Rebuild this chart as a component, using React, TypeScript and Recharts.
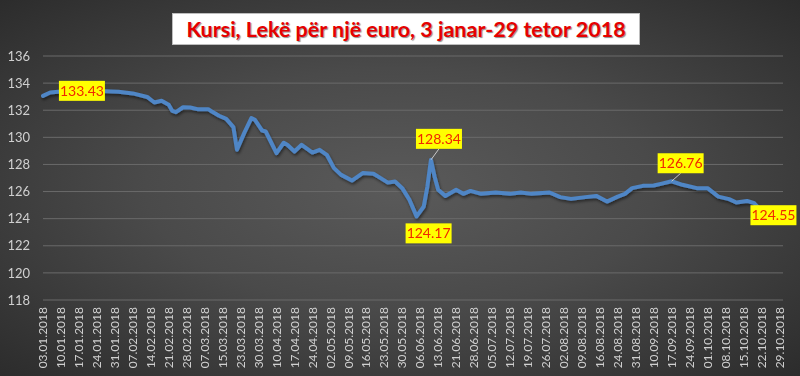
import React from 'react';
import { LineChart, Line, XAxis, YAxis, CartesianGrid } from 'recharts';

// business-day number (0 = 03.01.2018) and the rate
const dayIndex = [
    0, 2, 5, 8, 10, 13, 16, 19, 21, 25, 29, 31, 33, 35, 36, 37, 39, 41, 43, 46,
    47, 49, 51, 53, 54, 56, 58, 59, 61, 62, 65, 67, 68, 70, 72, 75, 77, 79, 81, 83,
    86, 89, 92, 94, 96, 98, 100, 102, 103, 104, 106, 107, 108, 109, 110, 112, 115, 117, 119, 122,
    126, 130, 133, 136, 141, 144, 147, 151, 154, 157, 160, 162, 164, 167, 170, 172, 175, 178, 182, 185,
    188, 191, 193, 196, 198, 200
];
const rateValues = [
    133.06, 133.31, 133.38, 133.41, 133.43, 133.42, 133.41, 133.39, 133.36, 133.24, 132.98, 132.57, 132.70, 132.40, 131.95, 131.86, 132.22, 132.20, 132.08, 132.08,
    131.90, 131.59, 131.36, 130.75, 129.08, 130.31, 131.42, 131.29, 130.50, 130.43, 128.83, 129.60, 129.45, 128.95, 129.45, 128.88, 129.08, 128.71, 127.73, 127.23,
    126.81, 127.36, 127.31, 126.99, 126.66, 126.74, 126.25, 125.39, 124.78, 124.17, 124.90, 126.37, 128.34, 127.11, 126.13, 125.68, 126.13, 125.83, 126.05, 125.83,
    125.93, 125.83, 125.93, 125.83, 125.93, 125.59, 125.46, 125.59, 125.68, 125.26, 125.63, 125.83, 126.25, 126.42, 126.45, 126.57, 126.76, 126.50, 126.25, 126.25,
    125.63, 125.44, 125.19, 125.31, 125.14, 124.55
];
const tickLabels = [
    '03.01.2018', '10.01.2018', '17.01.2018', '24.01.2018', '31.01.2018', '07.02.2018', '14.02.2018',
    '21.02.2018', '28.02.2018', '07.03.2018', '15.03.2018', '23.03.2018', '30.03.2018', '10.04.2018',
    '17.04.2018', '24.04.2018', '02.05.2018', '09.05.2018', '16.05.2018', '23.05.2018', '30.05.2018',
    '06.06.2018', '13.06.2018', '21.06.2018', '28.06.2018', '05.07.2018', '12.07.2018', '19.07.2018',
    '26.07.2018', '02.08.2018', '09.08.2018', '16.08.2018', '24.08.2018', '31.08.2018', '10.09.2018',
    '17.09.2018', '24.09.2018', '01.10.2018', '08.10.2018', '15.10.2018', '22.10.2018', '29.10.2018'
];
const yTicks = [118, 120, 122, 124, 126, 128, 130, 132, 134, 136];
const labeledDays = [10, 104, 108, 175, 200];

const TITLE = 'Kursi, Lekë për një euro, 3 janar-29 tetor 2018';
const TICK_STEP = 5;
const FONT = 'Lato, "Liberation Sans", sans-serif';

// where each value box sits relative to its point
const LABEL_OFFSET: Record<number, { dx: number; dy: number; leader?: boolean }> = {
    10: { dx: 3, dy: 0 },
    104: { dx: 12, dy: 17 },
    108: { dx: 8, dy: -21, leader: true },
    175: { dx: 9, dy: -18, leader: true },
    200: { dx: 12, dy: 4 },
};

const data = dayIndex.map((d, i) => ({ day: d, rate: rateValues[i] }));

const DateTick = ({ x, y, payload }: any) => {
    const label = tickLabels[Math.round(payload.value / TICK_STEP)];
    const ty = 307;
    return (
        <text
            x={x}
            y={ty}
            dy="0.35em"
            transform={`rotate(-90, ${x}, ${ty})`}
            textAnchor="end"
            fill="#d0d0d0"
            fontSize={12}
            fontFamily={FONT}
        >
            {label}
        </text>
    );
};

const ValueLabel = ({ x, y, index }: any) => {
    const point = data[index];
    if (!point || !labeledDays.includes(point.day)) return null;
    const off = LABEL_OFFSET[point.day];
    const cx = x + off.dx;
    const cy = y + off.dy;
    const w = 46;
    const h = 20;
    return (
        <g>
            {off.leader && (
                <line x1={x} y1={y} x2={cx} y2={cy + h / 2} stroke="#c8c8c8" strokeWidth={1} />
            )}
            <rect x={cx - w / 2} y={cy - h / 2} width={w} height={h} fill="#ffff00" />
            <text
                x={cx}
                y={cy}
                dy="0.35em"
                textAnchor="middle"
                fill="#f02800"
                fontSize={14}
                fontFamily={FONT}
            >
                {point.rate.toFixed(2)}
            </text>
        </g>
    );
};

export default function App() {
    return (
        <div
            style={{
                position: 'fixed',
                left: 0,
                top: 0,
                width: 800,
                height: 376,
                background: 'radial-gradient(ellipse at 50% 50%, #5a5a5a 0%, #4a4a4a 45%, #2c2c2c 100%)',
                fontFamily: FONT,
            }}
        >
            <LineChart
                width={800}
                height={376}
                data={data}
                margin={{ top: 56, right: 17, bottom: 0, left: 0 }}
            >
                <defs>
                    <filter id="lineShadow" x="-5%" y="-20%" width="110%" height="140%">
                        <feDropShadow dx="1" dy="2" stdDeviation="1.5" floodColor="#000" floodOpacity="0.5" />
                    </filter>
                </defs>
                <CartesianGrid vertical={false} stroke="#6a6a6a" strokeWidth={1} />
                <XAxis
                    dataKey="day"
                    type="number"
                    domain={[0, 206]}
                    ticks={tickLabels.map((_, i) => i * TICK_STEP)}
                    interval={0}
                    tick={<DateTick />}
                    tickLine={false}
                    axisLine={false}
                    height={76}
                />
                <YAxis
                    domain={[118, 136]}
                    ticks={yTicks}
                    interval={0}
                    width={43}
                    tickLine={false}
                    axisLine={false}
                    tickSize={0}
                    tickMargin={13}
                    tick={{ fill: '#d0d0d0', fontSize: 13, fontFamily: FONT }}
                />
                <Line
                    type="linear"
                    dataKey="rate"
                    stroke="#4f86c6"
                    strokeWidth={4}
                    strokeLinejoin="round"
                    strokeLinecap="round"
                    dot={false}
                    filter="url(#lineShadow)"
                    label={<ValueLabel />}
                    isAnimationActive={false}
                />
            </LineChart>
            <div
                style={{
                    position: 'absolute',
                    left: 172,
                    top: 13,
                    width: 468,
                    height: 32,
                    background: '#ffffff',
                    border: '1px solid #bdbdbd',
                    boxSizing: 'border-box',
                    display: 'flex',
                    alignItems: 'center',
                    justifyContent: 'center',
                    color: '#e60000',
                    fontWeight: 700,
                    fontSize: 21.5,
                    textShadow: '1px 1px 1px rgba(0,0,0,0.45)',
                    whiteSpace: 'nowrap',
                }}
            >
                {TITLE}
            </div>
        </div>
    );
}
